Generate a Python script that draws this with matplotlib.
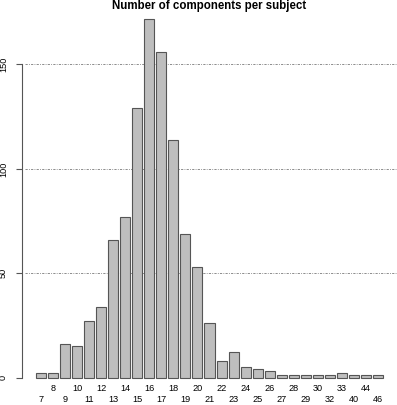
import matplotlib.pyplot as plt
import numpy as np

plt.rcParams["font.family"] = ["Liberation Sans", "DejaVu Sans"]
plt.rcParams["lines.scale_dashes"] = False

# number of components per subject, and how many subjects had that many
n_components = ["7", "8", "9", "10", "11", "12", "13", "14", "15", "16",
                "17", "18", "19", "20", "21", "22", "23", "24", "25", "26",
                "27", "28", "29", "30", "32", "33", "40", "44", "46"]
n_subjects = [2, 2, 16, 15, 27, 34, 66, 77, 129, 172,
              156, 114, 69, 53, 26, 8, 12, 5, 4, 3,
              1, 1, 1, 1, 1, 2, 1, 1, 1]
grid_levels = [50, 100, 150]

W, H = 397, 405
fig = plt.figure(figsize=(W / 100, H / 100), dpi=100)
# plot region in pixels: left 22, right 397, y=0 at 377.5, top 4.4
ax = fig.add_axes([22 / W, 1 - 377.5 / H, 1 - 22 / W, (377.5 - 4.4) / H])

# R barplot layout: width 1, space 0.2
x = 0.7 + 1.2 * np.arange(len(n_subjects))
ax.set_xlim(-1.184, 36.184)
ax.set_ylim(0, 178.8)

for lv in grid_levels:
    ax.axhline(lv, xmin=0.008, color="#8c8c8c", lw=0.7,
               dashes=(1.6, 0.9, 0.6, 0.9), zorder=1)

ax.bar(x, n_subjects, width=1.0, color="#bebebe", edgecolor="#555555",
       linewidth=0.8, zorder=2, clip_on=False)

# two staggered rows of labels
labels = [("\n" + s) if i % 2 == 0 else s for i, s in enumerate(n_components)]
ax.set_xticks(x)
ax.set_xticklabels(labels, fontsize=6.6, linespacing=1.25)
ax.tick_params(axis="x", length=0, pad=5)

ax.set_yticks([0, 50, 100, 150])
ax.set_yticklabels(["0", "50", "100", "150"], rotation=90, va="center",
                   fontsize=6.6)
ax.tick_params(axis="y", length=4, width=0.8, color="#555555", pad=6)

for s in ["top", "right", "bottom"]:
    ax.spines[s].set_visible(False)
ax.spines["left"].set_bounds(0, 150)
ax.spines["left"].set_color("#555555")
ax.spines["left"].set_linewidth(0.8)

# title centred over the plot region
fig.text((22 + 397) / 2 / W, 1 - 6.5 / H, "Number of components per subject",
         ha="center", va="center", fontsize=8.3, fontweight="bold")

fig.savefig("out.png", dpi=100)
